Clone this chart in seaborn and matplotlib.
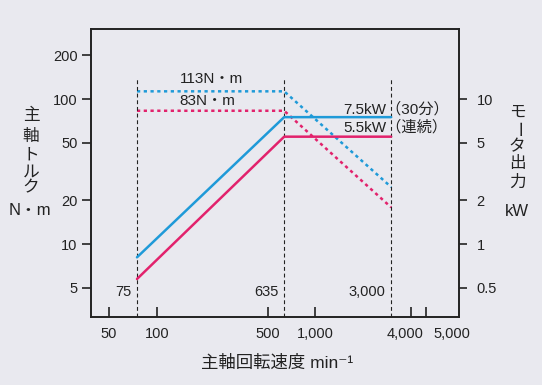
import matplotlib
matplotlib.use("Agg")
import matplotlib.pyplot as plt
import matplotlib.transforms as mtransforms
from matplotlib.ticker import NullLocator
import pandas as pd
import seaborn as sns

# ── Data ────────────────────────────────────────────────────────────────────
speed = [75, 635, 3000]                 # min^-1
torque_30min = [113, 113, 24.7]         # N·m  (dotted, blue)
torque_cont = [83, 83, 17.9]            # N·m  (dotted, pink)
power_30min = [0.81, 7.5, 7.5]          # kW   (solid, blue)
power_cont = [0.574, 5.5, 5.5]          # kW   (solid, pink)

marker_speeds = [75, 635, 3000]
marker_labels = ["75", "635", "3,000"]
x_ticks = [50, 100, 500, 1000, 4000, 5000]
x_tick_labels = ["50", "100", "500", "1,000", "4,000", "5,000"]
torque_ticks = [5, 10, 20, 50, 100, 200]
power_ticks = [0.5, 1, 2, 5, 10]
power_tick_labels = ["0.5", "1", "2", "5", "10"]

BLUE = "#1f9ad8"
PINK = "#e2226c"
BG = "#e9e9ef"
INK = "#222222"

sns.set_theme(style="white")
plt.rcParams["font.family"] = ["Liberation Sans", "Noto Sans CJK JP", "DejaVu Sans"]

fig = plt.figure(figsize=(5.42, 3.85), dpi=100, facecolor=BG)
ax = fig.add_axes([0.1673, 0.1766, 0.6796, 0.7481])
ax.set_facecolor(BG)
ax2 = ax.twinx()

df = pd.DataFrame({
    "speed": speed,
    "t30": torque_30min,
    "tc": torque_cont,
    "p30": power_30min,
    "pc": power_cont,
})

dotted = (0, (1.3, 1.4))
sns.lineplot(data=df, x="speed", y="t30", ax=ax, color=BLUE, lw=1.8, linestyle=dotted)
sns.lineplot(data=df, x="speed", y="tc", ax=ax, color=PINK, lw=1.8, linestyle=dotted)
sns.lineplot(data=df, x="speed", y="p30", ax=ax2, color=BLUE, lw=1.8)
sns.lineplot(data=df, x="speed", y="pc", ax=ax2, color=PINK, lw=1.8)

# ── Scales / limits ─────────────────────────────────────────────────────────
ax.set_xscale("log")
ax.set_yscale("log")
ax2.set_yscale("log")
ax.set_xlim(38.3, 8030)
ax.set_ylim(3.14, 304)
ax2.set_ylim(0.314, 30.4)

# vertical reference lines
ax.vlines(marker_speeds, 3.14, 140, colors=INK, linestyles=(0, (3.5, 2.5)), lw=0.8)
for s, lab in zip(marker_speeds, marker_labels):
    ax.annotate(lab, xy=(s, 4.7), xytext=(-4, 0), textcoords="offset points",
                ha="right", va="center", fontsize=10.5, color=INK)

# ── Ticks ───────────────────────────────────────────────────────────────────
ax.set_xticks(x_ticks, x_tick_labels)
ax.set_yticks(torque_ticks, [str(t) for t in torque_ticks])
ax2.set_yticks(power_ticks, power_tick_labels)
for a in (ax.xaxis, ax.yaxis, ax2.yaxis):
    a.set_minor_locator(NullLocator())

ax.tick_params(axis="x", direction="in", length=7, width=1.2, pad=7.5,
               labelsize=10.5, colors=INK, top=False, bottom=True)
ax.tick_params(axis="y", direction="out", length=6.5, width=1.2, pad=3,
               labelsize=10.5, colors=INK, left=True, right=False)
ax2.tick_params(axis="y", direction="out", length=6, width=1.2, pad=6.5,
                labelsize=10.5, colors=INK, left=False, right=True)
ax.set_xlabel("")
ax.set_ylabel("")
ax2.set_ylabel("")

# the reference spreads the last two speed labels apart
shifts = {"4,000": -6, "5,000": 26}
for lab in ax.get_xticklabels():
    dx = shifts.get(lab.get_text(), 0)
    if dx:
        off = mtransforms.ScaledTranslation(dx / 100, 0, fig.dpi_scale_trans)
        lab.set_transform(lab.get_transform() + off)

for a in (ax, ax2):
    for sp in a.spines.values():
        sp.set_color(INK)
        sp.set_linewidth(1.2)

# ── Annotations ─────────────────────────────────────────────────────────────
ax.text(222, 137, "113N・m", ha="center", va="center", fontsize=11, color=INK)
ax.text(207, 96.9, "83N・m", ha="center", va="center", fontsize=11, color=INK)
ax.text(1503, 85.3, "7.5kW（30分）", ha="left", va="center", fontsize=11, color=INK)
ax.text(1503, 63.4, "5.5kW（連続）", ha="left", va="center", fontsize=11, color=INK)

# ── Axis titles ─────────────────────────────────────────────────────────────
W, H = 542, 385


def ptext(x, y, s, **kw):
    fig.text(x / W, 1 - y / H, s, ha="center", va="center", color=INK, **kw)


for ch, y in zip("主軸トルク", [115, 136, 155, 172, 188]):
    ptext(31, y, ch, fontsize=12)
ptext(30, 211, "N・m", fontsize=12)

for ch, y in zip("モータ出力", [112, 129, 147, 164, 182]):
    ptext(517, y, ch, fontsize=12, rotation=(-90 if ch == "ー" else 0))
ptext(517, 212, "kW", fontsize=12)

ptext(277, 363, "主軸回転速度 min⁻¹", fontsize=12.5)

fig.savefig("out.png", dpi=100, facecolor=BG)
